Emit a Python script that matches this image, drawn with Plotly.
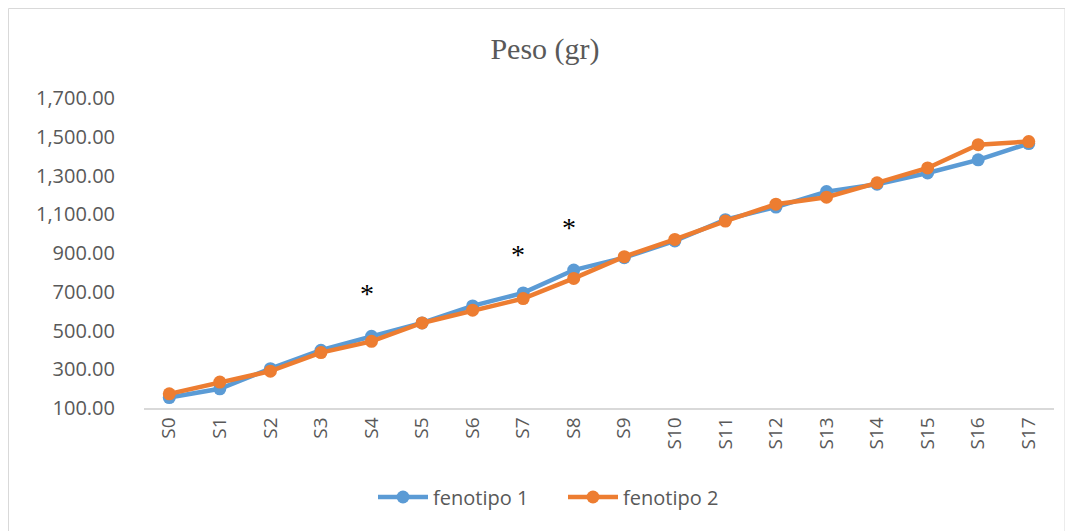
import plotly.graph_objects as go

categories = ["S0", "S1", "S2", "S3", "S4", "S5", "S6", "S7", "S8", "S9",
              "S10", "S11", "S12", "S13", "S14", "S15", "S16", "S17"]
fenotipo_1 = [154, 199, 303, 398, 470, 539, 627, 694, 812, 876,
              962, 1072, 1137, 1217, 1255, 1313, 1381, 1465]
fenotipo_2 = [173, 234, 290, 386, 444, 539, 605, 665, 769, 881,
              970, 1065, 1152, 1188, 1262, 1339, 1459, 1475]
star_categories = ["S4", "S7", "S8"]
star_values = [700, 905, 1040]
y_ticks = [100, 300, 500, 700, 900, 1100, 1300, 1500, 1700]

# page has an 8px body margin; figure is sized to fit the window
OFF = 8
W, H = 1073 - OFF, 531 - OFF
L, R, T, B = 144 - OFF, 1054 - OFF, 98 - OFF, 408 - OFF
pw, ph = R - L, B - T

fig = go.Figure()
fig.add_trace(go.Scatter(
    x=categories, y=fenotipo_1, name="fenotipo 1", mode="lines+markers",
    line=dict(color="#5B9BD5", width=4.5),
    marker=dict(color="#5B9BD5", size=13),
))
fig.add_trace(go.Scatter(
    x=categories, y=fenotipo_2, name="fenotipo 2", mode="lines+markers",
    line=dict(color="#ED7D31", width=4.5),
    marker=dict(color="#ED7D31", size=13),
))

for c, v in zip(star_categories, star_values):
    fig.add_annotation(x=c, y=v, text="*", showarrow=False, xshift=-5, yshift=-2,
                       font=dict(family="Liberation Serif", size=28, color="#000000"))

fig.add_shape(type="rect", xref="paper", yref="paper",
              x0=(0.5 - L) / pw, x1=(1065 - OFF - L) / pw,
              y0=(B - (H + 5)) / ph, y1=(B - 0.5) / ph,
              line=dict(color="#d9d9d9", width=1), fillcolor="rgba(0,0,0,0)", layer="below")

fig.update_layout(
    width=W, height=H,
    margin=dict(l=L, r=W - R, t=T, b=H - B, autoexpand=False),
    paper_bgcolor="white", plot_bgcolor="white",
    title=dict(text="Peso (gr)", x=(545 - OFF) / W, xanchor="center", xref="container",
               y=1 - (48 - OFF) / H, yanchor="middle",
               font=dict(family="Liberation Serif", size=30, color="#595959")),
    xaxis=dict(
        type="category", showgrid=False, showline=True, linecolor="#d9d9d9", linewidth=1.5,
        ticks="", tickangle=-90,
        tickfont=dict(family="Open Sans", size=19, color="#595959"),
        range=[-0.5, len(categories) - 0.5], zeroline=False,
    ),
    yaxis=dict(
        range=[100, 1700], tickvals=y_ticks, tickformat=",.2f",
        showgrid=False, showline=False, zeroline=False, ticks="",
        ticklabelstandoff=28,
        tickfont=dict(family="Open Sans", size=20, color="#595959"),
    ),
    legend=dict(orientation="h", x=(377 - 4 - OFF - L) / pw, xanchor="left",
                y=(B - (497 - OFF)) / ph, yanchor="middle",
                font=dict(family="Open Sans", size=20, color="#595959"),
                itemwidth=50, entrywidth=125, entrywidthmode="pixels",
                bgcolor="rgba(0,0,0,0)"),
    showlegend=True,
)

fig.write_html("out.html")
